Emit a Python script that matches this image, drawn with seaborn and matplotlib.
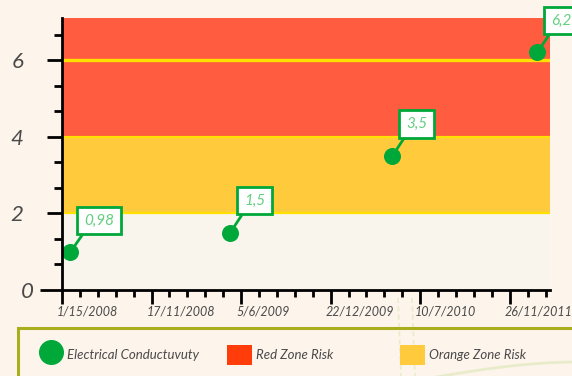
import matplotlib
matplotlib.use("Agg")
import matplotlib.pyplot as plt
import matplotlib.transforms as mtransforms
import numpy as np
import seaborn as sns
import pandas as pd
from matplotlib.lines import Line2D
from matplotlib.patches import Patch, Rectangle
from matplotlib.ticker import FixedLocator, MultipleLocator

# ---- data -------------------------------------------------------------
tick_labels = ["1/15/2008", "17/11/2008", "5/6/2009", "22/12/2009", "10/7/2010", "26/11/2011"]
sample_pos = [0.09, 1.88, 3.69, 5.31]          # position along the date axis
conductivity = [0.98, 1.5, 3.5, 6.2]
value_text = ["0,98", "1,5", "3,5", "6,2"]
orange_zone = (2, 4)
red_zone = (4, 7.1)
limit_line = 6
legend_labels = ["Electrical Conductuvuty", "Red Zone Risk", "Orange Zone Risk"]

# ---- style ------------------------------------------------------------
sns.set_theme(style="white")
plt.rcParams["font.family"] = ["Lato", "DejaVu Sans"]
BG = "#FDF4EB"
CREAM = "#FAF5EC"
ORANGE = "#FFCB3C"
RED = "#FF5C40"
LEG_RED = "#FF3C0A"
YELLOW = "#FFE000"
GREEN = "#00A83A"
LIGHT_GREEN = "#62CF7E"
TEXT = "#4A4A4A"
OLIVE = "#A8AE1E"
DECOR = "#E9ECCB"

fig = plt.figure(figsize=(5.72, 3.76), dpi=100, facecolor=BG)

# faint background ornament (rail track and arc) behind the legend
deco = fig.add_axes([0, 0, 1, 1], zorder=-1)
deco.set_axis_off()
deco.set_xlim(0, 572)
deco.set_ylim(376, 0)
for x0 in (398, 412):
    deco.plot([x0, x0 + 3], [298, 376], color=DECOR, lw=1.2, ls=(0, (3, 2)))
arc_t = np.linspace(0, 1, 60)
deco.plot(430 + 180 * arc_t, 378 - 16 * np.sin(arc_t * np.pi * 0.6), color=DECOR, lw=2)

ax = fig.add_axes([62 / 572, 1 - 290 / 376, (550 - 62) / 572, (290 - 18) / 376])
ax.set_facecolor(BG)

# risk bands
ax.axhspan(0, orange_zone[0], color=CREAM, lw=0, zorder=0)
ax.axhspan(*orange_zone, color=ORANGE, lw=0, zorder=0)
ax.axhspan(*red_zone, color=RED, lw=0, zorder=0)
for y in orange_zone:
    ax.axhline(y, color=YELLOW, lw=1.6, zorder=1)
ax.axhline(limit_line, color=YELLOW, lw=2.4, zorder=1)

df = pd.DataFrame({"pos": sample_pos, "ec": conductivity})
sns.scatterplot(data=df, x="pos", y="ec", ax=ax, s=150, color=GREEN,
                edgecolor=GREEN, linewidth=0, zorder=5, legend=False)

for x, y, t in zip(sample_pos, conductivity, value_text):
    ax.annotate(t, xy=(x, y), xytext=(10, 18), textcoords="offset points",
                ha="left", va="bottom", fontsize=11, fontstyle="italic",
                color=LIGHT_GREEN, annotation_clip=False, zorder=6,
                bbox=dict(boxstyle="square,pad=0.45", fc="white", ec=GREEN, lw=2),
                arrowprops=dict(arrowstyle="-", color=GREEN, lw=2,
                                shrinkA=0, shrinkB=0, relpos=(0.12, 0)))

ax.set_xlim(0, 5.45)
ax.set_ylim(0, red_zone[1])
ax.xaxis.set_major_locator(FixedLocator(range(len(tick_labels))))
ax.set_xticklabels(tick_labels)
ax.xaxis.set_minor_locator(MultipleLocator(0.2))
ax.yaxis.set_major_locator(FixedLocator([0, 2, 4, 6]))
ax.set_yticklabels(["0", "2", "4", "6"])
ax.yaxis.set_minor_locator(MultipleLocator(2 / 3))
ax.set_xlabel("")
ax.set_ylabel("")

for side in ("top", "right"):
    ax.spines[side].set_visible(False)
for side in ("left", "bottom"):
    ax.spines[side].set_color("black")
    ax.spines[side].set_linewidth(2)
    ax.spines[side].set_zorder(7)

ax.tick_params(axis="y", which="major", direction="out", length=11, width=2,
               color="black", labelsize=16, labelcolor=TEXT, pad=17, left=True)
ax.tick_params(axis="y", which="minor", direction="out", length=6, width=2,
               color="black", left=True)
ax.tick_params(axis="x", which="major", direction="out", length=10, width=2,
               color="black", labelsize=9, labelcolor=TEXT, pad=1.5, bottom=True)
ax.tick_params(axis="x", which="minor", direction="out", length=5, width=2,
               color="black", bottom=True)
for lab in ax.get_xticklabels() + ax.get_yticklabels():
    lab.set_fontstyle("italic")
shift_left = mtransforms.ScaledTranslation(-5 / 100, 0, fig.dpi_scale_trans)
for lab in ax.get_xticklabels():
    lab.set_horizontalalignment("left")
    lab.set_transform(lab.get_transform() + shift_left)
# zero sits closer to the axis, beside its longer tick
zero_tick = ax.yaxis.get_major_ticks()[0]
zero_tick.tick1line.set_markersize(16)
shift_right = mtransforms.ScaledTranslation(11 / 100, 0, fig.dpi_scale_trans)
zero_lab = ax.get_yticklabels()[0]
zero_lab.set_transform(zero_lab.get_transform() + shift_right)

# legend: one entry per anchor so each sits at its own spot
handles = [
    Line2D([], [], marker="o", ls="", color=GREEN, markersize=17),
    Patch(facecolor=LEG_RED, edgecolor="none"),
    Patch(facecolor=ORANGE, edgecolor="none"),
]
anchors = [38, 227, 400]
for h, lab, x0 in zip(handles, legend_labels, anchors):
    leg = fig.legend([h], [lab], loc="center left", frameon=False,
                     bbox_to_anchor=(x0 / 572, 1 - 355 / 376),
                     prop={"style": "italic", "size": 9.5},
                     handlelength=1.9, handleheight=1.9, handletextpad=0.3,
                     borderaxespad=0, borderpad=0)
    for t in leg.get_texts():
        t.set_color(TEXT)
fig.patches.append(Rectangle((18 / 572, -0.2), 1.0, 0.2 + 1 - 328 / 376,
                             transform=fig.transFigure, fill=False,
                             edgecolor=OLIVE, lw=2.2))

fig.savefig("out.png", dpi=100, facecolor=BG)
